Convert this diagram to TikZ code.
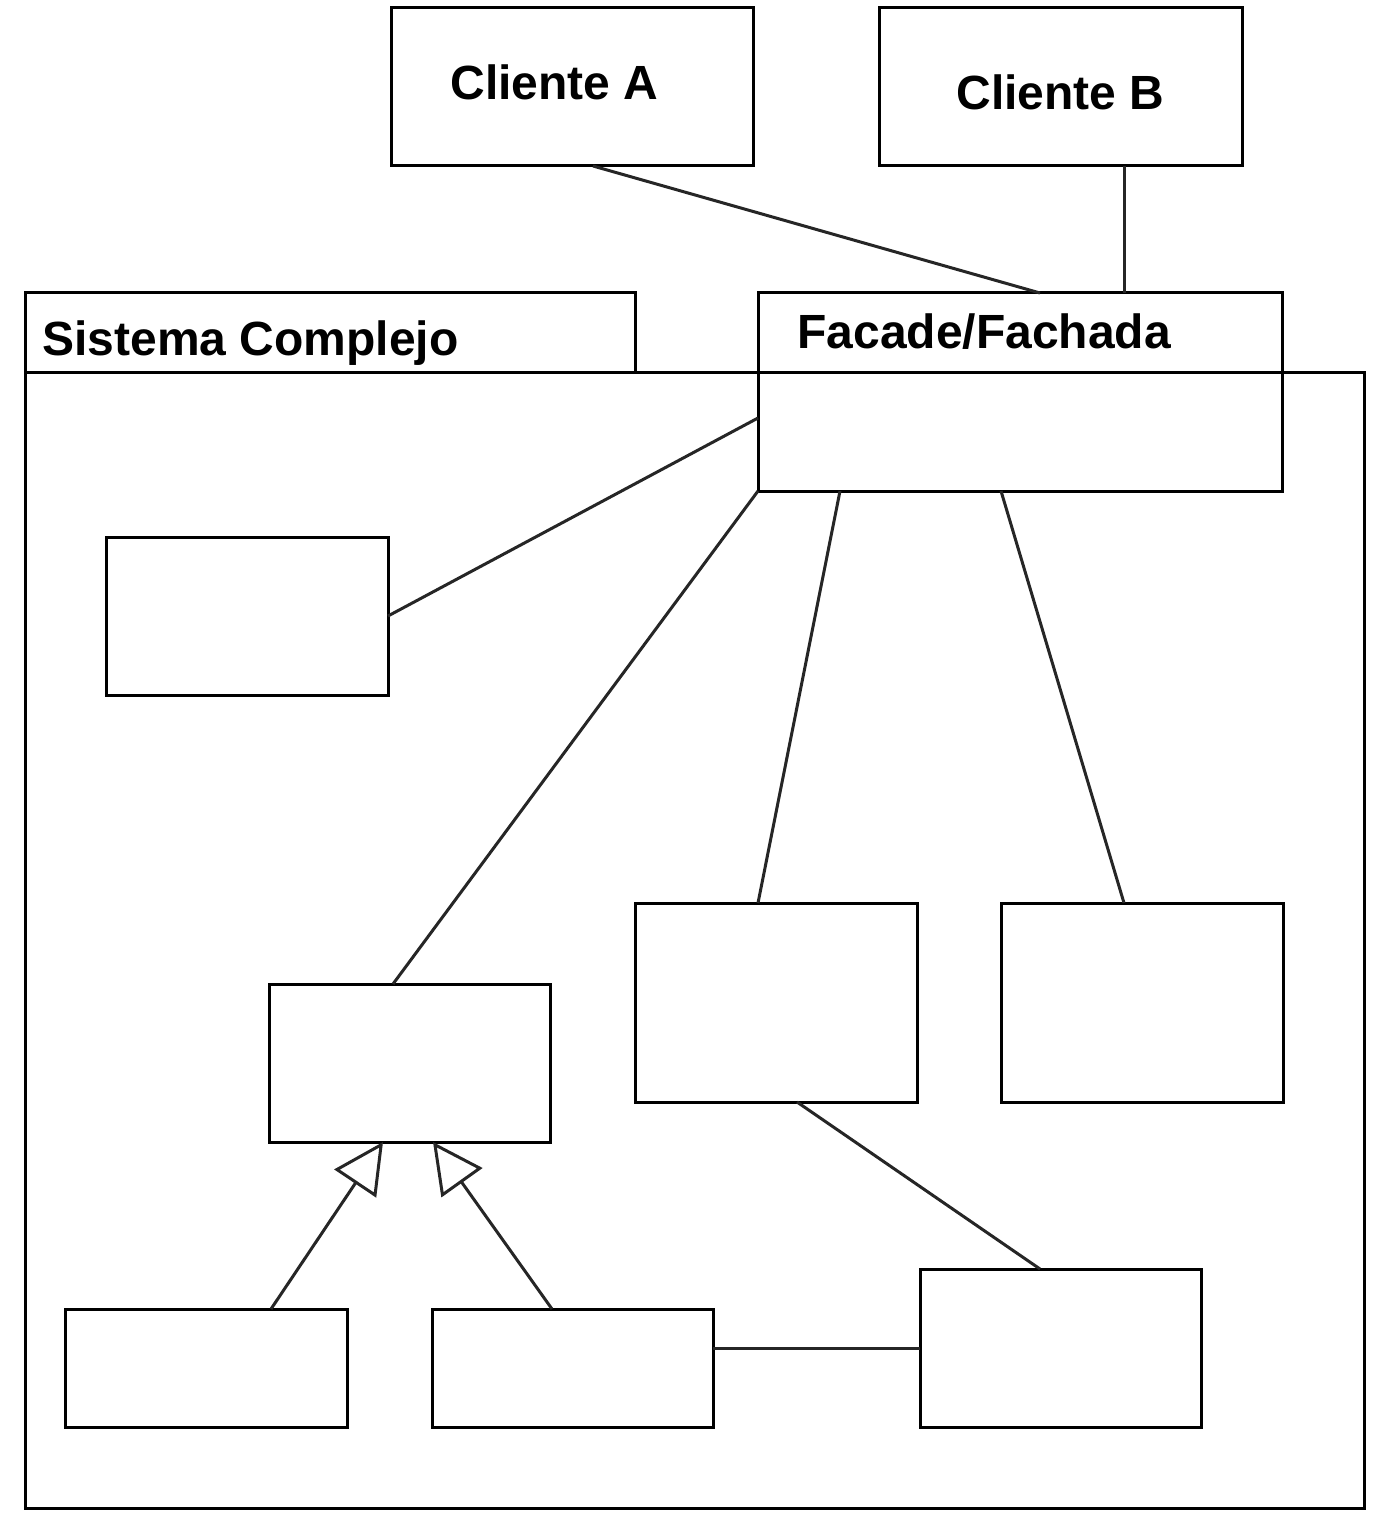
\documentclass[tikz,border=0pt]{standalone}
\usepackage{fontspec}
\setmainfont{Liberation Sans}
\usepackage{tikz}
\usetikzlibrary{arrows.meta}

\tikzset{
  caja/.style={draw, line width=1.5pt, inner sep=0pt, outer sep=0pt},
  texto/.style={font=\bfseries\fontsize{24}{28}\selectfont, inner sep=0pt, anchor=base west},
  enlace/.style={draw=black!85, line width=1.5pt},
  hereda/.style={draw=black!85, line width=1.5pt, -{Triangle[open, length=25pt, width=25pt, fill=white]}}
}

\begin{document}
\begin{tikzpicture}[x=0.5pt, y=-0.5pt]
   \useasboundingbox (0,0) rectangle (1374,1518);
   % clientes
   \node[caja, minimum width=181pt, minimum height=79pt] (clienteA) at (572,87) {};
   \node[caja, minimum width=181.5pt, minimum height=79pt] (clienteB) at (1060.5,87) {};
   % paquete
   \node[caja, minimum width=305pt, minimum height=40pt] (pestana) at (330,333) {};
   \node[caja, minimum width=669.5pt, minimum height=567.5pt] (sistema) at (694.5,940.5) {};
   \node[caja, minimum width=262pt, minimum height=99pt] (fachada) at (1020,392) {};
   % clases del sistema
   \node[caja, minimum width=141pt, minimum height=79pt] (c1) at (247,616) {};
   \node[caja, minimum width=140.5pt, minimum height=79pt] (c2) at (409.5,1063) {};
   \node[caja, minimum width=141pt, minimum height=99.5pt] (c3) at (776,1002.5) {};
   \node[caja, minimum width=141pt, minimum height=99.5pt] (c4) at (1142,1002.5) {};
   \node[caja, minimum width=140.5pt, minimum height=79pt] (c5) at (1060.5,1348) {};
   \node[caja, minimum width=141pt, minimum height=59pt] (c6) at (206,1368) {};
   \node[caja, minimum width=140.5pt, minimum height=59pt] (c7) at (572.5,1368) {};
   % textos
   \node[texto] (tA) at (450,100) {Cliente A};
   \node[texto] (tB) at (956,110) {Cliente B};
   \node[texto] (tS) at (42,356) {Sistema Complejo};
   \node[texto] (tF) at (797,349) {Facade/Fachada};
   % enlaces
   \draw[enlace] ([xshift=10.5pt]clienteA.south) -- ([xshift=10pt]fachada.north);
   \draw[enlace] ([xshift=31.75pt]clienteB.south) -- ([xshift=31.75pt]clienteB.south |- fachada.north);
   \draw[enlace] (c1.east) -- ([yshift=-13pt]fachada.west);
   \draw[enlace] ([xshift=-8.25pt]c2.north) -- (fachada.south west);
   \draw[enlace] ([xshift=-9pt]c3.north) -- ([xshift=-90pt]fachada.south);
   \draw[enlace] ([xshift=-9pt]c4.north) -- ([xshift=-9.5pt]fachada.south);
   \draw[enlace] ([xshift=10.5pt]c3.south) -- ([xshift=-10.25pt]c5.north);
   \draw[enlace] (c7.east |- c5.west) -- (c5.west);
   \draw[hereda] ([xshift=32.5pt]c6.north) -- ([xshift=-13.25pt]c2.south);
   \draw[hereda] ([xshift=-10.25pt]c7.north) -- ([xshift=11.75pt]c2.south);
\end{tikzpicture}
\end{document}
